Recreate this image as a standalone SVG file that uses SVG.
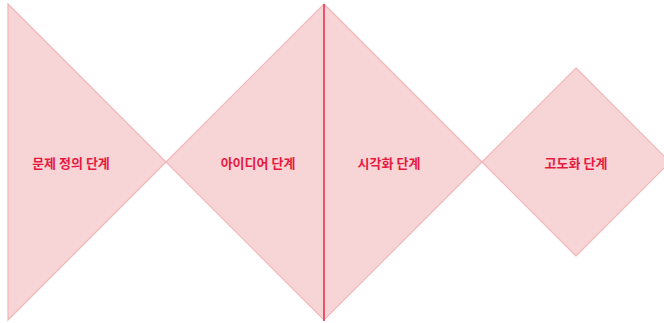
<svg xmlns="http://www.w3.org/2000/svg" width="664" height="323" viewBox="0 0 664 323">
<style>
.shape{fill:#f7d4d6;stroke:#f2b5b8;stroke-width:1.2}
.label{font-family:"Noto Sans CJK KR","Noto Sans",sans-serif;font-size:13px;font-weight:bold;fill:#e8193f;text-anchor:middle;dominant-baseline:central}
.divider{stroke:#e8546e;stroke-width:2}
</style>
<rect width="664" height="323" fill="#ffffff"/>
<g id="stage1">
<polygon class="shape" points="8,4 166,162 8,320"/>
<text class="label" x="71" y="162">문제 정의 단계</text>
</g>
<g id="stage2-3">
<polygon class="shape" points="324,4 482,162 324,320 166,162"/>
</g>
<g id="stage2">
<text class="label" x="258" y="162">아이디어 단계</text>
</g>
<g id="stage3">
<text class="label" x="389" y="162">시각화 단계</text>
</g>
<g id="stage4">
<polygon class="shape" points="576,68 670,162 576,256 482,162"/>
<text class="label" x="576" y="162">고도화 단계</text>
</g>
<g id="connectors">
<line class="divider" x1="324" y1="4" x2="324" y2="321"/>
</g>
</svg>
